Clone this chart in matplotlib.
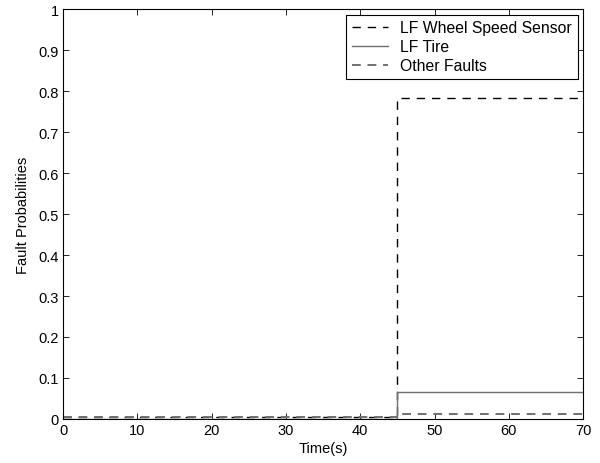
import matplotlib.pyplot as plt

plt.rcParams['font.family'] = ['Liberation Sans', 'DejaVu Sans']
plt.rcParams['font.size'] = 10.5

# Time points (s) for the step signals
t = [0, 45, 70]

# Fault probabilities (values hold until next time point)
p_wheel_sensor = [0.004, 0.783, 0.783]
p_tire = [0.001, 0.065, 0.065]
p_other = [0.005, 0.013, 0.013]

fig = plt.figure(figsize=(6, 4.64), dpi=100)
ax = fig.add_axes([0.105, 0.095, 0.867, 0.883])

ax.plot(t, p_wheel_sensor, drawstyle='steps-post', color='black', linestyle=(0, (6, 5)),
        linewidth=1.0, label='LF Wheel Speed Sensor')
ax.plot(t, p_tire, drawstyle='steps-post', color='#707070', linestyle='-',
        linewidth=1.0, label='LF Tire')
ax.plot(t, p_other, drawstyle='steps-post', color='#707070', linestyle=(0, (4.5, 3.5)),
        linewidth=1.4, label='Other Faults')

ax.set_xlim(0, 70)
ax.set_ylim(0, 1)
ax.set_xticks(range(0, 71, 10))
ax.set_yticks([i / 10 for i in range(11)])
ax.set_yticklabels(['0', '0.1', '0.2', '0.3', '0.4', '0.5', '0.6', '0.7', '0.8', '0.9', '1'])
ax.tick_params(direction='in', top=True, right=True, length=4, width=0.6, pad=3)
for s in ax.spines.values():
    s.set_linewidth(0.8)

ax.set_xlabel('Time(s)', labelpad=3)
ax.set_ylabel('Fault Probabilities', labelpad=6)

leg = ax.legend(loc='upper right', fancybox=False, edgecolor='black', framealpha=1,
                borderaxespad=0.35, handlelength=2.3, handletextpad=0.8,
                labelspacing=0.25, borderpad=0.35, fontsize=11.3)
leg.get_frame().set_linewidth(0.8)

fig.savefig('out.png', dpi=100)
